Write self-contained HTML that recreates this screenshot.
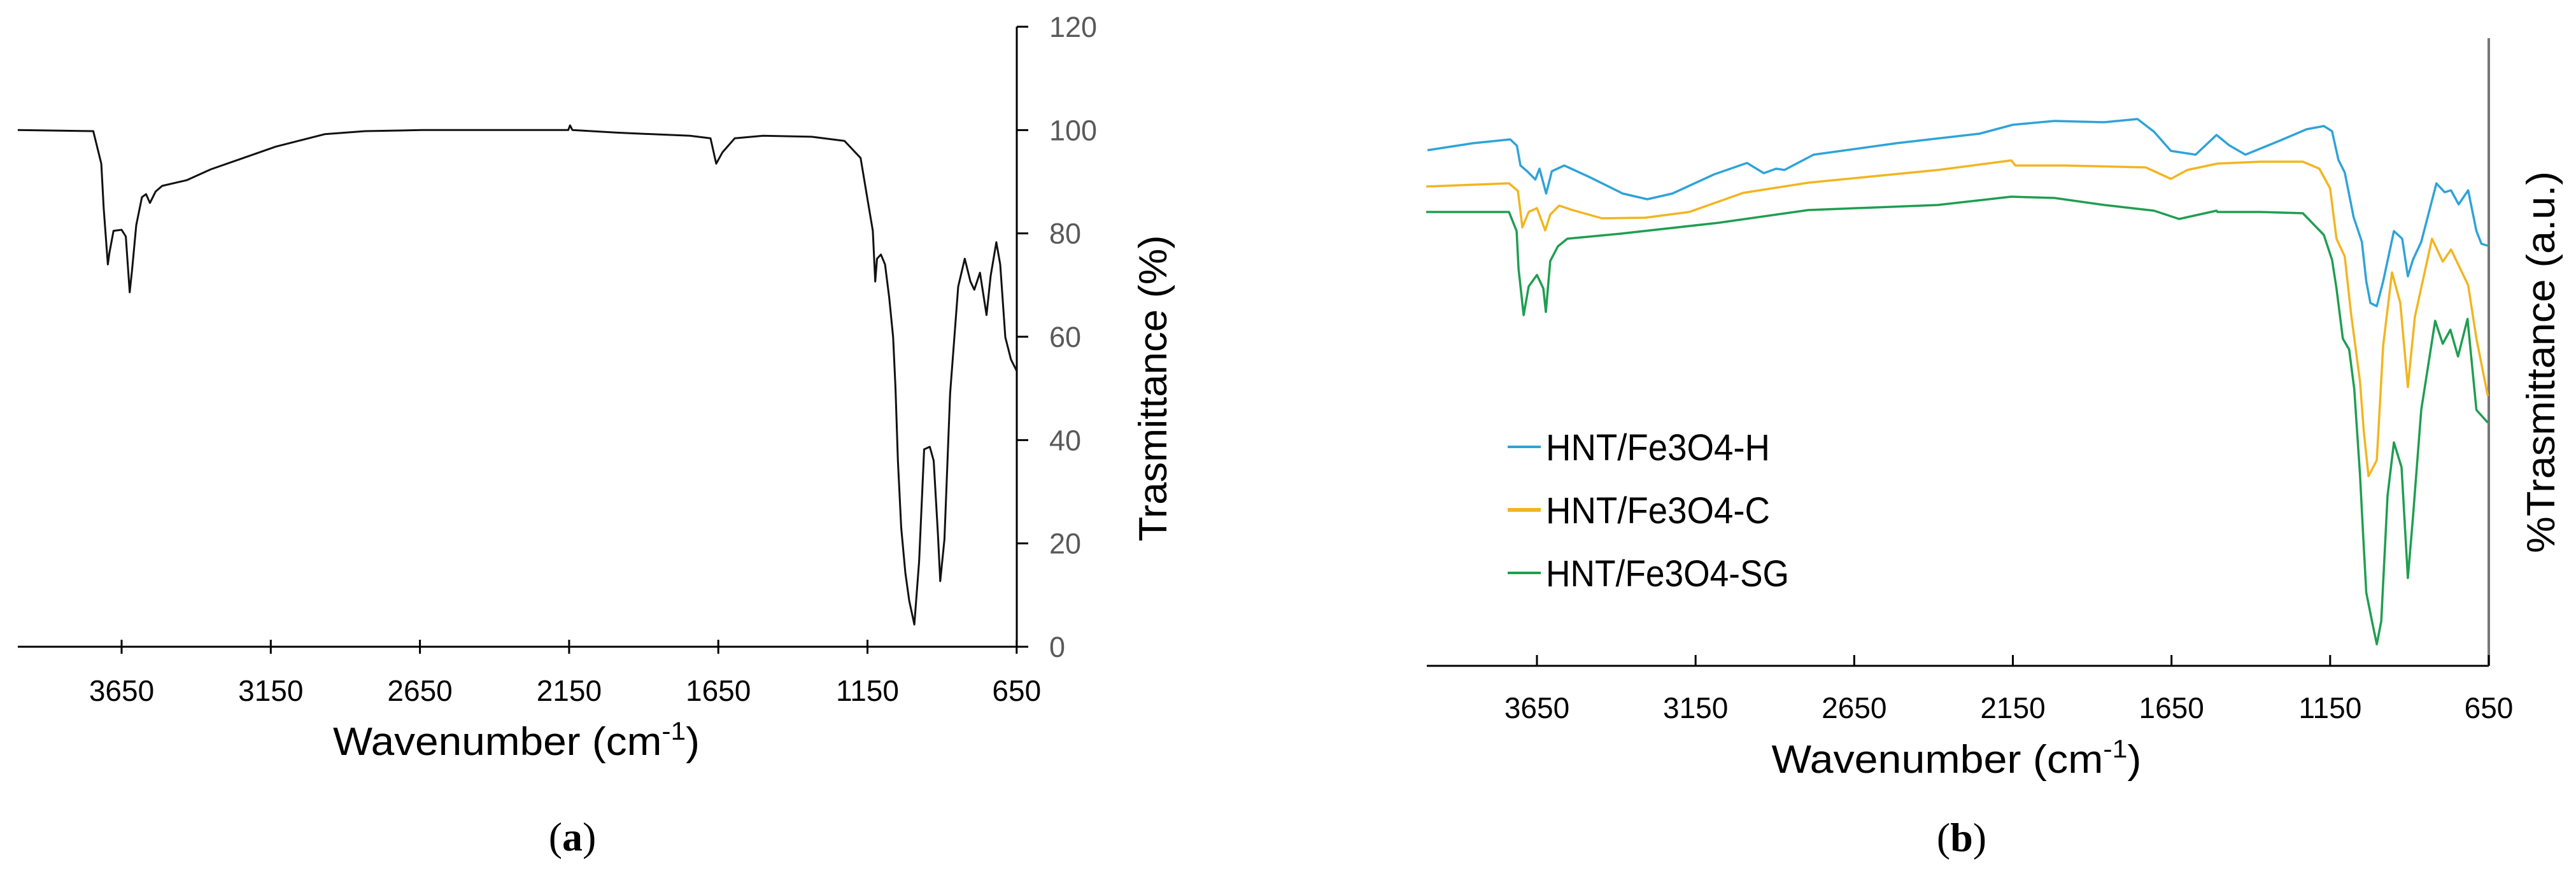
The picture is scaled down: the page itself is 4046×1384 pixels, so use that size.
<!DOCTYPE html>
<html><head><meta charset="utf-8"><style>
html,body{margin:0;padding:0;background:#fff;}
svg{display:block;}
text{font-family:"Liberation Sans",sans-serif;}
</style></head><body>
<svg id="fig" width="4046" height="1384" viewBox="0 0 4046 1384" xmlns="http://www.w3.org/2000/svg">
<rect width="4046" height="1384" fill="#fff"/>
<g id="chartA"></g>
<g id="chartB"></g>
<text x="811" y="1186" font-size="62" text-anchor="middle" textLength="576" lengthAdjust="spacingAndGlyphs">Wavenumber (cm<tspan font-size="40" dy="-24">-1</tspan><tspan dy="24">)</tspan></text>
<text transform="translate(1832,610) rotate(-90)" font-size="62" text-anchor="middle" textLength="481" lengthAdjust="spacingAndGlyphs">Trasmittance (%)</text>
<text x="899" y="1336" font-size="64" text-anchor="middle" font-family="Liberation Serif, serif" style="font-family:'Liberation Serif',serif">(<tspan font-weight="bold">a</tspan>)</text>
<text x="3073" y="1214" font-size="62" text-anchor="middle" textLength="581" lengthAdjust="spacingAndGlyphs">Wavenumber (cm<tspan font-size="40" dy="-24">-1</tspan><tspan dy="24">)</tspan></text>
<text transform="translate(4012,569) rotate(-90)" font-size="62" text-anchor="middle" textLength="600" lengthAdjust="spacingAndGlyphs">%Trasmittance (a.u.)</text>
<text x="3081" y="1337" font-size="64" text-anchor="middle" style="font-family:'Liberation Serif',serif">(<tspan font-weight="bold">b</tspan>)</text>
<g>
 <g><line x1="2368" y1="702" x2="2420" y2="702" stroke="#2ea3d8" stroke-width="4"/><text x="2428" y="723" font-size="58" textLength="352" lengthAdjust="spacingAndGlyphs">HNT/Fe3O4-H</text></g>
 <g><line x1="2368" y1="801" x2="2420" y2="801" stroke="#f2b520" stroke-width="6"/><text x="2428" y="822" font-size="58" textLength="352" lengthAdjust="spacingAndGlyphs">HNT/Fe3O4-C</text></g>
 <g><line x1="2368" y1="900" x2="2420" y2="900" stroke="#1e9e50" stroke-width="4"/><text x="2428" y="921" font-size="58" textLength="382" lengthAdjust="spacingAndGlyphs">HNT/Fe3O4-SG</text></g>
</g>
</svg>
<script>
const xTicks = [3650, 3150, 2650, 2150, 1650, 1150, 650];
const yTicksA = [0, 20, 40, 60, 80, 100, 120];
const wnA = [3998,3745,3718,3710,3696,3691,3677,3650,3636,3623,3615,3601,3582,3568,3555,3536,3514,3432,3351,3242,3133,2969,2833,2643,2153,2147,2139,1989,1745,1676,1657,1636,1595,1500,1336,1227,1173,1151,1132,1124,1118,1105,1091,1077,1064,1056,1048,1037,1023,1010,993,977,960,941,928,914,906,892,873,846,824,805,792,773,751,737,718,705,688,669,650];
const tA = [100,99.8,93.5,84.8,74,76.2,80.5,80.7,79.4,68.6,72.9,81.6,87,87.6,85.9,88.1,89.2,90.3,92.4,94.6,96.8,99.2,99.8,100,100,100.9,100,99.5,98.9,98.4,93.5,95.7,98.4,98.9,98.7,97.9,94.6,87,80.5,70.7,75.1,75.9,74,67.5,59.9,50.1,36,23,14.3,8.9,4.3,16.5,38.2,38.7,36,21.9,12.7,20.8,49,69.7,75.1,70.7,69.1,72.4,64.2,71.8,78.3,74,59.9,55.6,53.4];
const wnH = [3995,3852,3734,3713,3702,3681,3655,3642,3621,3603,3564,3485,3380,3302,3223,3092,2988,2935,2896,2870,2778,2517,2255,2150,2019,1862,1757,1705,1652,1574,1508,1469,1417,1304,1224,1170,1144,1124,1104,1076,1050,1036,1023,1003,983,949,923,905,889,863,815,789,769,745,715,689,673,653];
const tH = [81,82.1,82.7,81.7,78.6,77.7,76.4,78.1,74.2,77.7,78.6,76.8,74.2,73.3,74.2,77.2,79,77.4,78.1,77.9,80.3,82.1,83.6,85,85.6,85.4,85.9,83.9,80.9,80.3,83.4,81.8,80.3,82.6,84.3,84.8,84,79.5,77.5,70.5,66.6,60.4,57,56.5,60.4,68.3,67.1,61.2,63.8,66.6,75.8,74.4,74.7,72.5,74.7,68.3,66.3,66];
const wnC = [3999,3738,3710,3696,3676,3650,3624,3608,3580,3538,3445,3309,3170,3000,2795,2386,2155,2142,1986,1731,1652,1600,1505,1370,1236,1184,1150,1130,1104,1084,1056,1044,1029,1003,983,955,929,905,883,829,795,769,715,689,653];
const tC = [75.3,75.8,74.6,68.9,71.3,71.9,68.4,70.9,72.3,71.6,70.3,70.4,71.3,74.3,75.9,77.9,79.4,78.6,78.6,78.3,76.5,77.9,78.9,79.2,79.2,78.1,75,67.1,64.3,55.3,44.7,36.8,29.8,32.3,50.3,61.8,57,43.8,54.8,67.1,63.5,65.4,59.8,51.4,42.4];
const wnSG = [3999,3738,3714,3708,3692,3676,3650,3630,3622,3608,3584,3554,3385,3078,2795,2386,2155,2019,1862,1705,1626,1508,1505,1370,1236,1170,1144,1130,1110,1090,1074,1056,1046,1036,1016,1003,989,969,949,925,905,889,863,819,795,771,747,717,689,653];
const tSG = [71.3,71.3,68.3,62.4,55.1,59.6,61.4,59.3,55.6,63.6,65.9,67.1,67.9,69.6,71.6,72.4,73.7,73.5,72.4,71.5,70.2,71.5,71.3,71.3,71.1,67.7,63.8,59.3,51.4,49.7,43.5,30.1,20.5,11.5,6.5,3.4,7,26.7,35.1,31.2,13.8,23.3,40.2,54.2,50.6,52.8,48.6,54.5,40.2,38.2];

const NS = 'http://www.w3.org/2000/svg';
function mk(parent, tag, attrs){const e=document.createElementNS(NS,tag);for(const k in attrs)e.setAttribute(k,attrs[k]);parent.appendChild(e);return e;}

// chart A scales
const xA = wn => 191 + (3650 - wn) / 500 * 234.3;
const yA = t => 1016 - t * (974 / 120);
// chart B scales
const xB = wn => 2414 + (3650 - wn) / 3000 * 1495;
const yB = t => 1046 - t * 10;

const gA = document.getElementById('chartA');
const gB = document.getElementById('chartB');

// chart A axes
let ax = mk(gA,'line',{x1:28,y1:1016,x2:1597,y2:1016,stroke:'#000','stroke-width':3});


let ay = mk(gA,'line',{x1:1597,y1:42,x2:1597,y2:1016,stroke:'#000','stroke-width':3});


xTicks.forEach(v=>{
  const t = mk(gA,'line',{x1:xA(v),y1:1005,x2:xA(v),y2:1027,stroke:'#000','stroke-width':3});
  
  
  const l = mk(gA,'text',{x:xA(v),y:1101,'font-size':46,'text-anchor':'middle',fill:'#000'});
  l.textContent = v;
  
  
});
yTicksA.forEach(v=>{
  const t = mk(gA,'line',{x1:1597,y1:yA(v),x2:1615,y2:yA(v),stroke:'#000','stroke-width':3});
  
  
  const l = mk(gA,'text',{x:1648,y:yA(v)+16,'font-size':45,fill:'#595959'});
  l.textContent = v;
  
  
});
let dA = wnA.map((w,i)=>(i?'L':'M')+xA(w).toFixed(1)+' '+yA(tA[i]).toFixed(1)).join(' ');
let pA = mk(gA,'path',{d:dA,fill:'none',stroke:'#111','stroke-width':3,'stroke-linejoin':'round'});



// chart B axes
let bx = mk(gB,'line',{x1:2241,y1:1046,x2:3909,y2:1046,stroke:'#000','stroke-width':3});


let by = mk(gB,'line',{x1:3909,y1:60,x2:3909,y2:1046,stroke:'#777','stroke-width':4});


xTicks.forEach(v=>{
  const t = mk(gB,'line',{x1:xB(v),y1:1029,x2:xB(v),y2:1046,stroke:'#000','stroke-width':3});
  
  
  const l = mk(gB,'text',{x:xB(v),y:1128,'font-size':46,'text-anchor':'middle',fill:'#000'});
  l.textContent = v;
  
  
});
function series(wn, t, color, w){
  const d = wn.map((x,i)=>(i?'L':'M')+xB(x).toFixed(1)+' '+yB(t[i]).toFixed(1)).join(' ');
  return mk(gB,'path',{d:d,fill:'none',stroke:color,'stroke-width':w,'stroke-linejoin':'round'});
}
const sH = series(wnH, tH, '#2ea3d8', 3.5);


const sC = series(wnC, tC, '#f2b520', 3.5);


const sG = series(wnSG, tSG, '#1e9e50', 3.5);


</script>
</body></html>
